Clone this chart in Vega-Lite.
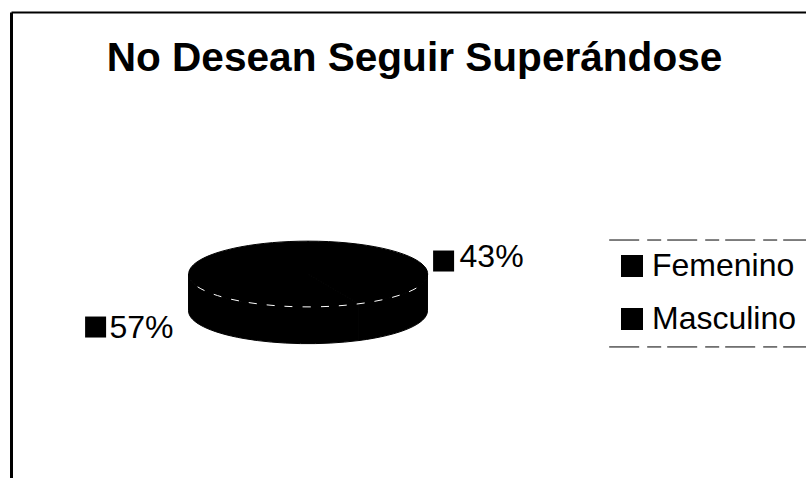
{"$schema":"https://vega.github.io/schema/vega-lite/v6.json","width":795,"height":466,"autosize":"none","padding":{"left":11,"top":12,"right":0,"bottom":0},"background":"white",
"title":{"text":"No Desean Seguir Superándose","font":"Liberation Sans","fontWeight":"bold","fontSize":40.6,"color":"#000","anchor":"middle","frame":"group","orient":"top","offset":-100,"dx":6,"baseline":"alphabetic"},
"config":{"view":{"stroke":null},"axis":{"ticks":false,"labels":false,"grid":false,"title":null,"domainColor":"#000"},"axisX":{"domainWidth":2},"axisY":{"domainWidth":3}},
"data":{"values":[{"genero":"Femenino","pct":0.43},{"genero":"Masculino","pct":0.57}]},
"layer":[
{"mark":{"type":"point","filled":true,"size":57100,"opacity":1,"color":"#000","stroke":"#000","strokeWidth":1},"encoding":{
"x":{"datum":0,"type":"quantitative","scale":{"domain":[-2.475,4.15],"nice":false,"zero":false},"axis":{"orient":"top"}},
"y":{"datum":0,"type":"quantitative","scale":{"domain":[-1.7,2.183],"nice":false,"zero":false},"axis":{"orient":"left"}},
"shape":{"field":"genero","type":"nominal","legend":null,"scale":{"range":["M0,0 L0,-0.275 A1,0.275 0 0 1 0.426,0.249 Z M1,0 A1,0.275 0 0 1 0.426,0.249 L0.426,0.557 A1,0.275 0 0 0 1,0.308 Z","M0,0 L0.426,0.249 A1,0.275 0 1 1 0,-0.275 Z M0.426,0.249 A1,0.275 0 0 1 -1,0 L-1,0.308 A1,0.275 0 0 0 0.426,0.557 Z"]}}}},
{"transform":[{"filter":"datum.genero==='Femenino'"}],"mark":{"type":"point","filled":false,"size":57600,"stroke":"#fff","strokeWidth":1,"strokeDash":[8,10],"opacity":1,"shape":"M-0.92,0.107 A1,0.275 0 0 0 0.92,0.107"},"encoding":{"x":{"datum":0,"type":"quantitative"},"y":{"datum":0,"type":"quantitative"}}},
{"transform":[{"filter":"datum.genero==='Femenino'"}],"mark":{"type":"point","filled":true,"shape":"square","size":441,"opacity":1},"encoding":{"x":{"datum":1.13,"type":"quantitative"},"y":{"datum":0.108,"type":"quantitative"},
"color":{"field":"genero","type":"nominal","scale":{"domain":["Femenino","Masculino"],"range":["#000000","#000000"]},"legend":{"orient":"none","legendX":605,"legendY":238,"title":null,"symbolType":"square","symbolSize":484,"labelFont":"Liberation Sans","labelFontSize":32,"labelColor":"#000","labelOffset":4,"rowPadding":21,"symbolOpacity":1,"labelLimit":300}}}},
{"transform":[{"filter":"datum.genero==='Masculino'"}],"mark":{"type":"point","filled":true,"shape":"square","size":441,"opacity":1},"encoding":{"x":{"datum":-1.77,"type":"quantitative"},"y":{"datum":-0.442,"type":"quantitative"},
"color":{"field":"genero","type":"nominal","scale":{"domain":["Femenino","Masculino"],"range":["#000000","#000000"]},"legend":{"orient":"none","legendX":605,"legendY":238,"title":null,"symbolType":"square","symbolSize":484,"labelFont":"Liberation Sans","labelFontSize":32,"labelColor":"#000","labelOffset":4,"rowPadding":21,"symbolOpacity":1,"labelLimit":300}}}},
{"transform":[{"filter":"datum.genero==='Femenino'"}],"layer":[
{"mark":{"type":"text","align":"left","baseline":"middle","font":"Liberation Sans","fontSize":32,"color":"#000"},"encoding":{"x":{"datum":1.263,"type":"quantitative"},"y":{"datum":0.14,"type":"quantitative"},"text":{"field":"pct","format":".0%"}}},
{"mark":{"type":"rule","stroke":"#000","strokeWidth":1,"strokeDash":[30,8,14,6]},"encoding":{"x":{"datum":2.51,"type":"quantitative"},"x2":{"datum":4.15},"y":{"datum":0.283,"type":"quantitative"}}}
]},
{"transform":[{"filter":"datum.genero==='Masculino'"}],"layer":[
{"mark":{"type":"text","align":"left","baseline":"middle","font":"Liberation Sans","fontSize":32,"color":"#000"},"encoding":{"x":{"datum":-1.654,"type":"quantitative"},"y":{"datum":-0.45,"type":"quantitative"},"text":{"field":"pct","format":".0%"}}},
{"mark":{"type":"rule","stroke":"#000","strokeWidth":1,"strokeDash":[30,8,14,6]},"encoding":{"x":{"datum":2.51,"type":"quantitative"},"x2":{"datum":4.15},"y":{"datum":-0.608,"type":"quantitative"}}}
]}
]}
